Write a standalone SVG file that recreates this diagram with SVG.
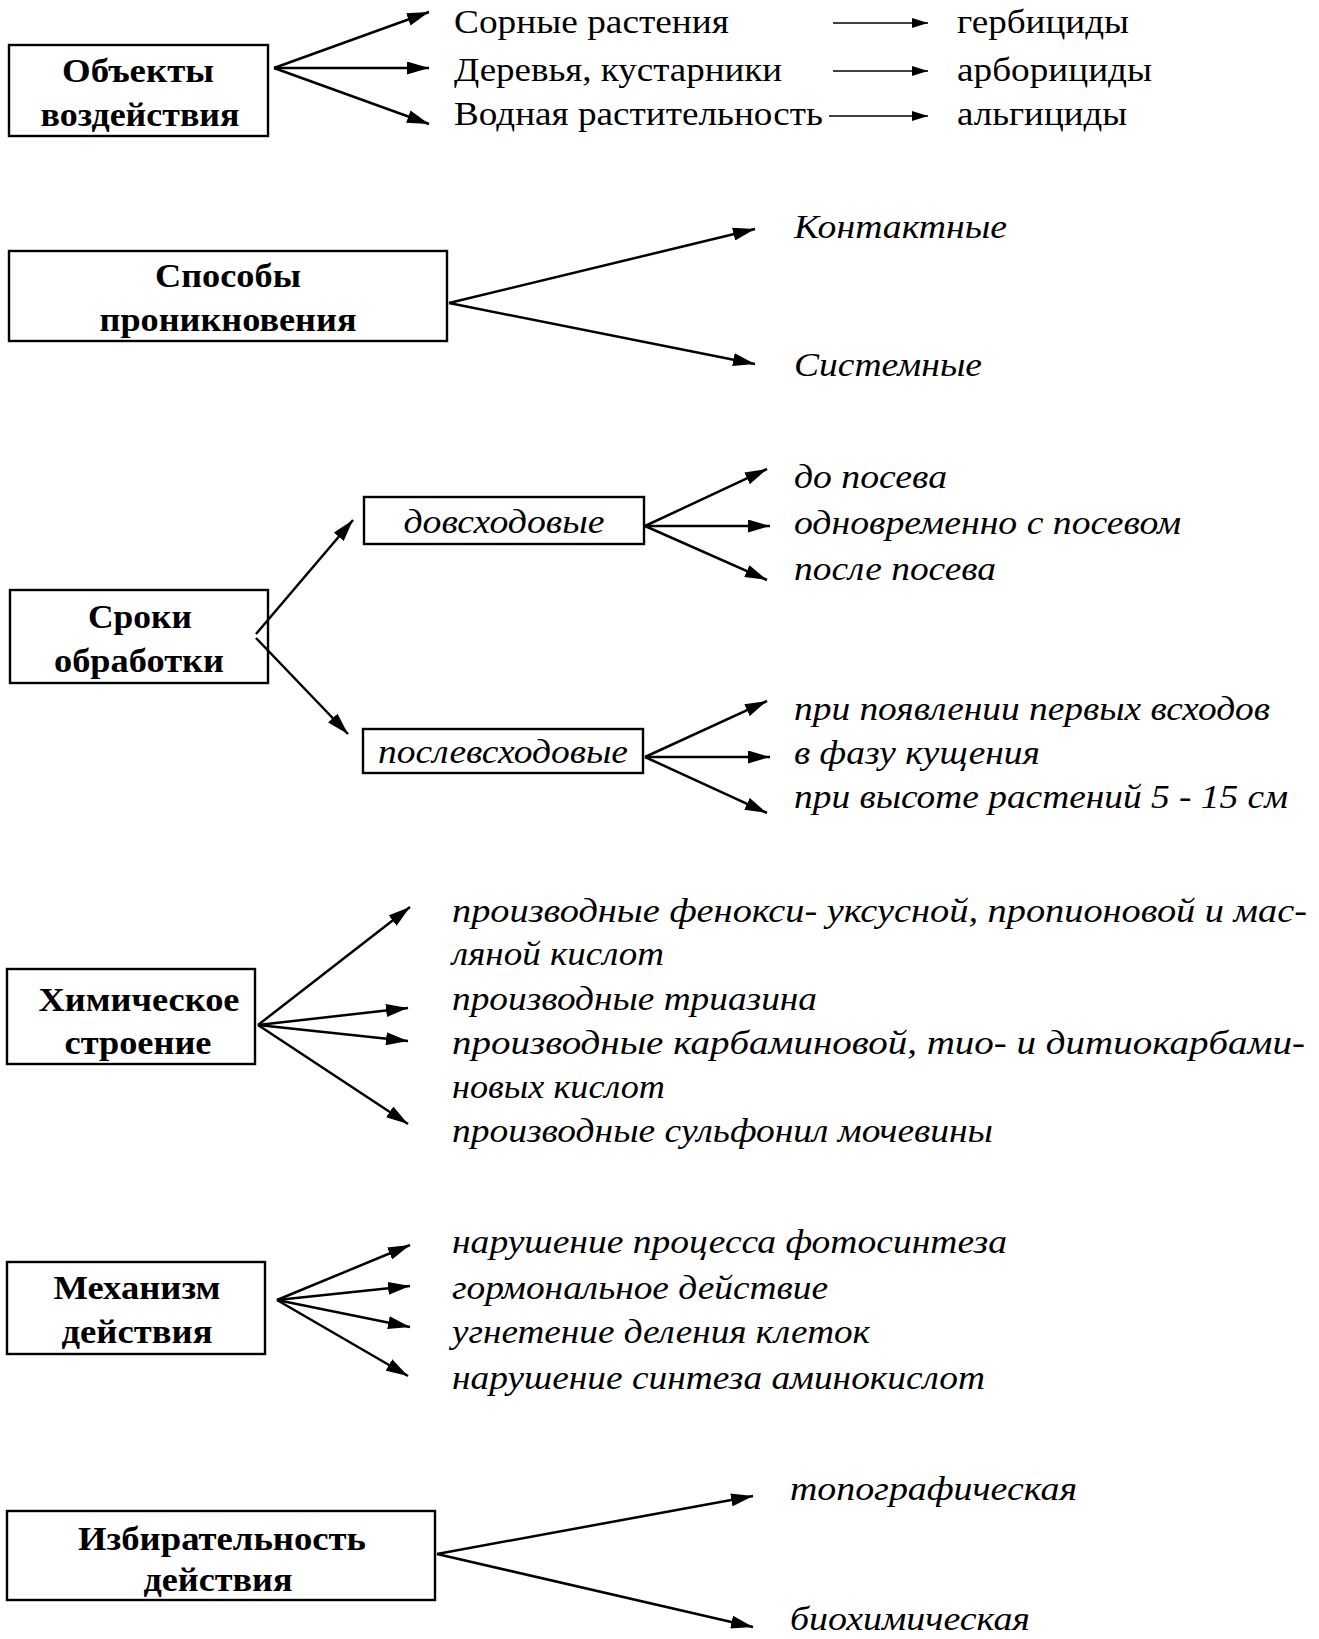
<svg xmlns="http://www.w3.org/2000/svg" width="1319" height="1639" viewBox="0 0 1319 1639">
<defs>
<marker id="ah" viewBox="0 0 22 13" refX="22" refY="6.5" markerWidth="22" markerHeight="13" markerUnits="userSpaceOnUse" orient="auto"><path d="M0,0 L22,6.5 L0,13 Z" fill="#000"/></marker>
<marker id="ahs" viewBox="0 0 16 10" refX="16" refY="5" markerWidth="16" markerHeight="10" markerUnits="userSpaceOnUse" orient="auto"><path d="M0,0 L16,5 L0,10 Z" fill="#000"/></marker>
</defs>
<style>
.box{fill:#fff;stroke:#000;stroke-width:2.4}
.lb{font-family:"Liberation Serif",serif;font-weight:bold;font-size:34px;fill:#000;text-anchor:middle}
.tx{font-family:"Liberation Serif",serif;font-size:34px;fill:#000}
.it{font-family:"Liberation Serif",serif;font-style:italic;font-size:33px;fill:#000}
.ln{stroke:#000;stroke-width:2.5;fill:none;marker-end:url(#ah)}
.sl{stroke:#000;stroke-width:1.6;fill:none;marker-end:url(#ahs)}
</style>
<rect width="1319" height="1639" fill="#fff"/>

<g id="node-objects">
<rect class="box" x="9" y="45" width="259" height="91"/>
<text class="lb" x="138" y="82" textLength="152" lengthAdjust="spacingAndGlyphs">Объекты</text>
<text class="lb" x="140" y="126" textLength="199" lengthAdjust="spacingAndGlyphs">воздействия</text>
</g>
<g id="node-objects-items">
<text class="tx" x="454" y="33" textLength="275" lengthAdjust="spacingAndGlyphs">Сорные растения</text>
<text class="tx" x="454" y="81" textLength="328" lengthAdjust="spacingAndGlyphs">Деревья, кустарники</text>
<text class="tx" x="454" y="125" textLength="369" lengthAdjust="spacingAndGlyphs">Водная растительность</text>
<text class="tx" x="957" y="33" textLength="172" lengthAdjust="spacingAndGlyphs">гербициды</text>
<text class="tx" x="957" y="81" textLength="195" lengthAdjust="spacingAndGlyphs">арборициды</text>
<text class="tx" x="957" y="125" textLength="170" lengthAdjust="spacingAndGlyphs">альгициды</text>
</g>

<g id="node-penetration">
<rect class="box" x="9" y="251" width="438" height="90"/>
<text class="lb" x="228" y="287" textLength="146" lengthAdjust="spacingAndGlyphs">Способы</text>
<text class="lb" x="228" y="331" textLength="257" lengthAdjust="spacingAndGlyphs">проникновения</text>
</g>
<g id="node-penetration-items">
<text class="it" x="794" y="238" textLength="213" lengthAdjust="spacingAndGlyphs">Контактные</text>
<text class="it" x="794" y="376" textLength="188" lengthAdjust="spacingAndGlyphs">Системные</text>
</g>

<g id="node-timing">
<rect class="box" x="10" y="590" width="258" height="93"/>
<text class="lb" x="140" y="628" textLength="104" lengthAdjust="spacingAndGlyphs">Сроки</text>
<text class="lb" x="139" y="672" textLength="170" lengthAdjust="spacingAndGlyphs">обработки</text>
</g>
<g id="node-pre">
<rect class="box" x="364" y="497" width="280" height="47"/>
<text class="it" x="504" y="533" text-anchor="middle" textLength="201" lengthAdjust="spacingAndGlyphs">довсходовые</text>
</g>
<g id="node-post">
<rect class="box" x="363" y="729" width="280" height="44"/>
<text class="it" x="503" y="763" text-anchor="middle" textLength="250" lengthAdjust="spacingAndGlyphs">послевсходовые</text>
</g>
<g id="node-timing-items">
<text class="it" x="794" y="488" textLength="153" lengthAdjust="spacingAndGlyphs">до посева</text>
<text class="it" x="794" y="534" textLength="387" lengthAdjust="spacingAndGlyphs">одновременно с посевом</text>
<text class="it" x="794" y="580" textLength="202" lengthAdjust="spacingAndGlyphs">после посева</text>
<text class="it" x="794" y="720" textLength="476" lengthAdjust="spacingAndGlyphs">при появлении первых всходов</text>
<text class="it" x="794" y="764" textLength="246" lengthAdjust="spacingAndGlyphs">в фазу кущения</text>
<text class="it" x="794" y="808" textLength="494" lengthAdjust="spacingAndGlyphs">при высоте растений 5 - 15 см</text>
</g>

<g id="node-chem">
<rect class="box" x="7" y="969" width="248" height="95"/>
<text class="lb" x="139" y="1011" textLength="201" lengthAdjust="spacingAndGlyphs">Химическое</text>
<text class="lb" x="138" y="1054" textLength="147" lengthAdjust="spacingAndGlyphs">строение</text>
</g>
<g id="node-chem-items">
<text class="it" x="452" y="922" textLength="855" lengthAdjust="spacingAndGlyphs">производные фенокси- уксусной, пропионовой и мас-</text>
<text class="it" x="452" y="965" textLength="212" lengthAdjust="spacingAndGlyphs">ляной кислот</text>
<text class="it" x="452" y="1010" textLength="365" lengthAdjust="spacingAndGlyphs">производные триазина</text>
<text class="it" x="452" y="1054" textLength="853" lengthAdjust="spacingAndGlyphs">производные карбаминовой, тио- и дитиокарбами-</text>
<text class="it" x="452" y="1098" textLength="213" lengthAdjust="spacingAndGlyphs">новых кислот</text>
<text class="it" x="452" y="1142" textLength="541" lengthAdjust="spacingAndGlyphs">производные сульфонил мочевины</text>
</g>

<g id="node-mech">
<rect class="box" x="7" y="1262" width="258" height="92"/>
<text class="lb" x="137" y="1299" textLength="167" lengthAdjust="spacingAndGlyphs">Механизм</text>
<text class="lb" x="137" y="1343" textLength="151" lengthAdjust="spacingAndGlyphs">действия</text>
</g>
<g id="node-mech-items">
<text class="it" x="452" y="1253" textLength="555" lengthAdjust="spacingAndGlyphs">нарушение процесса фотосинтеза</text>
<text class="it" x="452" y="1299" textLength="376" lengthAdjust="spacingAndGlyphs">гормональное действие</text>
<text class="it" x="452" y="1343" textLength="418" lengthAdjust="spacingAndGlyphs">угнетение деления клеток</text>
<text class="it" x="452" y="1389" textLength="533" lengthAdjust="spacingAndGlyphs">нарушение синтеза аминокислот</text>
</g>

<g id="node-select">
<rect class="box" x="7" y="1511" width="428" height="89"/>
<text class="lb" x="222" y="1550" textLength="288" lengthAdjust="spacingAndGlyphs">Избирательность</text>
<text class="lb" x="218" y="1591" textLength="149" lengthAdjust="spacingAndGlyphs">действия</text>
</g>
<g id="node-select-items">
<text class="it" x="790" y="1500" textLength="287" lengthAdjust="spacingAndGlyphs">топографическая</text>
<text class="it" x="790" y="1630" textLength="240" lengthAdjust="spacingAndGlyphs">биохимическая</text>
</g>

<g id="connectors">
<line class="ln" x1="274" y1="68" x2="429" y2="12"/>
<line class="ln" x1="274" y1="68" x2="429" y2="68"/>
<line class="ln" x1="274" y1="68" x2="429" y2="124"/>
<line class="sl" x1="833" y1="23" x2="928" y2="23"/>
<line class="sl" x1="833" y1="71" x2="928" y2="71"/>
<line class="sl" x1="829" y1="116" x2="928" y2="116"/>

<line class="ln" x1="449" y1="303" x2="755" y2="229"/>
<line class="ln" x1="449" y1="303" x2="755" y2="364"/>

<line class="ln" x1="256" y1="634" x2="353" y2="520"/>
<line class="ln" x1="256" y1="638" x2="348" y2="734"/>
<line class="ln" x1="645" y1="526" x2="767" y2="469"/>
<line class="ln" x1="645" y1="526" x2="770" y2="526"/>
<line class="ln" x1="645" y1="526" x2="767" y2="580"/>
<line class="ln" x1="645" y1="757" x2="767" y2="701"/>
<line class="ln" x1="645" y1="757" x2="770" y2="757"/>
<line class="ln" x1="645" y1="757" x2="767" y2="813"/>

<line class="ln" x1="258" y1="1025" x2="410" y2="907"/>
<line class="ln" x1="258" y1="1025" x2="408" y2="1008"/>
<line class="ln" x1="258" y1="1025" x2="408" y2="1041"/>
<line class="ln" x1="258" y1="1025" x2="408" y2="1124"/>

<line class="ln" x1="277" y1="1300" x2="410" y2="1245"/>
<line class="ln" x1="277" y1="1300" x2="410" y2="1286"/>
<line class="ln" x1="277" y1="1300" x2="410" y2="1327"/>
<line class="ln" x1="277" y1="1300" x2="408" y2="1376"/>

<line class="ln" x1="437" y1="1554" x2="753" y2="1496"/>
<line class="ln" x1="437" y1="1554" x2="753" y2="1627"/>
</g>
</svg>
